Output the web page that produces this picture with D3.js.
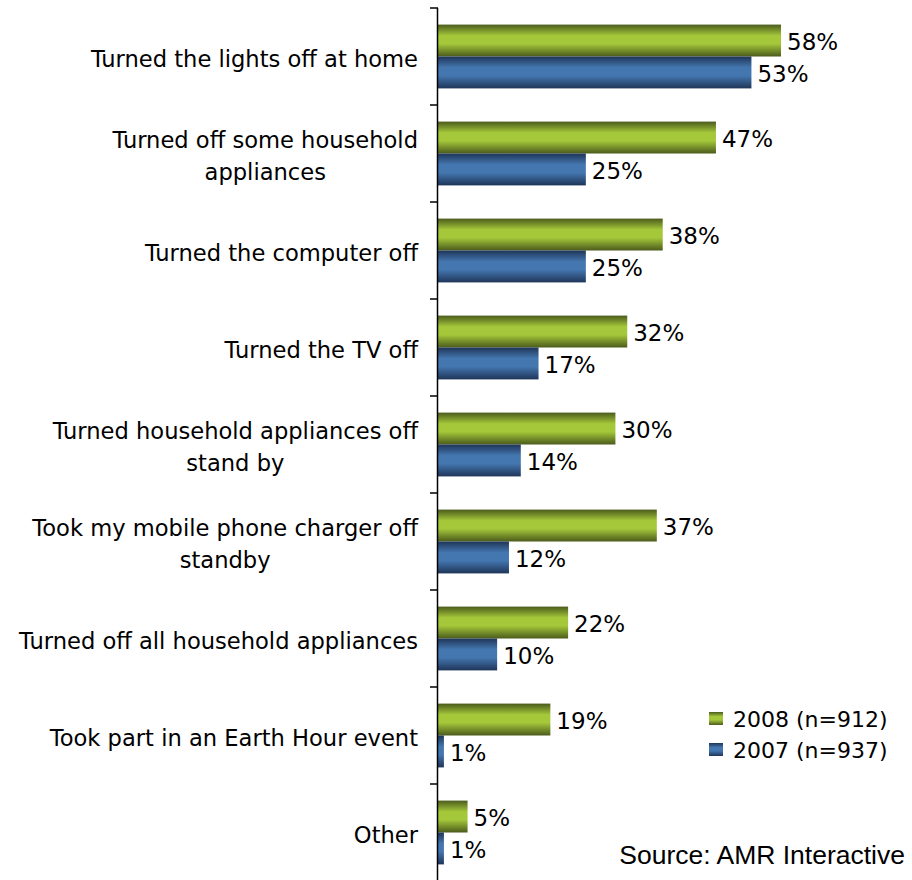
<!DOCTYPE html>
<meta charset="utf-8">
<style>
body { margin: 0; background: #fff; }
text { font-family: "DejaVu Sans", Verdana, sans-serif; fill: #000; }
.source { font-family: "Liberation Sans", Arial, sans-serif; }
</style>
<svg width="912" height="880"></svg>
<script src="https://cdn.jsdelivr.net/npm/d3@7"></script>
<script>

var categories = [
  ["Turned the lights off at home"],
  ["Turned off some household", "appliances"],
  ["Turned the computer off"],
  ["Turned the TV off"],
  ["Turned household appliances off", "stand by"],
  ["Took my mobile phone charger off", "standby"],
  ["Turned off all household appliances"],
  ["Took part in an Earth Hour event"],
  ["Other"]
];
var series = ["2008 (n=912)", "2007 (n=937)"];
var values2008 = [58, 47, 38, 32, 30, 37, 22, 19, 5];
var values2007 = [53, 25, 25, 17, 14, 12, 10, 1, 1];
var sourceText = "Source: AMR Interactive";

var svg = d3.select("svg");

var keys = categories.map(function(d, i) { return i; });

var y = d3.scaleBand()
    .domain(keys)
    .range([8, 881]);

var yInner = d3.scaleBand()
    .domain(series)
    .range([0, y.bandwidth()])
    .paddingOuter(0.52);

var x = d3.scaleLinear()
    .domain([0, 58])
    .range([438, 781]);

// gradients
var defs = svg.append("defs");
function grad(id, edge, mid) {
  var g = defs.append("linearGradient")
      .attr("id", id)
      .attr("x1", 0).attr("y1", 0).attr("x2", 0).attr("y2", 1);
  g.append("stop").attr("offset", "0%").attr("stop-color", edge);
  g.append("stop").attr("offset", "35%").attr("stop-color", mid);
  g.append("stop").attr("offset", "60%").attr("stop-color", mid);
  g.append("stop").attr("offset", "100%").attr("stop-color", edge);
}
grad("g2008", "#4b5b1c", "#a5c83a");
grad("g2007", "#1f3558", "#4477b0");
var fills = { "2008 (n=912)": "url(#g2008)", "2007 (n=937)": "url(#g2007)" };

var rows = [];
keys.forEach(function(k) {
  rows.push({ k: k, s: series[0], v: values2008[k] });
  rows.push({ k: k, s: series[1], v: values2007[k] });
});

svg.append("g").selectAll("rect")
  .data(rows)
  .enter().append("rect")
    .attr("x", x(0))
    .attr("y", function(d) { return y(d.k) + yInner(d.s); })
    .attr("width", function(d) { return x(d.v) - x(0); })
    .attr("height", yInner.bandwidth())
    .attr("fill", function(d) { return fills[d.s]; });

svg.append("g").selectAll("text")
  .data(rows)
  .enter().append("text")
    .attr("x", function(d) { return x(d.v) + 6; })
    .attr("y", function(d) { return y(d.k) + yInner(d.s) + yInner.bandwidth() / 2 + 1; })
    .attr("dy", "0.36em")
    .attr("font-size", 23)
    .text(function(d) { return d.v + "%"; });

// axis
var axis = svg.append("g");
axis.append("line")
    .attr("x1", x(0) - 0.5).attr("x2", x(0) - 0.5)
    .attr("y1", y.range()[0]).attr("y2", y.range()[1])
    .attr("stroke", "#000").attr("stroke-width", 1.5);
var bounds = keys.map(function(k) { return y(k); }).concat([y.range()[1]]);
axis.selectAll(".tick")
  .data(bounds)
  .enter().append("line")
    .attr("x1", x(0) - 8).attr("x2", x(0))
    .attr("y1", function(d) { return d; }).attr("y2", function(d) { return d; })
    .attr("stroke", "#000").attr("stroke-width", 1.5);

// category labels
var labelRight = 418;
var lab = svg.append("g").selectAll("text")
  .data(keys)
  .enter().append("text")
    .attr("font-size", 22.6)
    .attr("text-anchor", "middle");
lab.each(function(k) {
  var t = d3.select(this);
  var lines = categories[k];
  var n = lines.length;
  var cy = y(k) + y.bandwidth() / 2 + 2;
  lines.forEach(function(s, i) {
    t.append("tspan")
        .attr("y", cy + (i - (n - 1) / 2) * 32)
        .attr("dy", "0.36em")
        .text(s);
  });
  var w = 0;
  t.selectAll("tspan").each(function() { w = Math.max(w, this.getComputedTextLength()); });
  t.selectAll("tspan").attr("x", labelRight - w / 2);
});

// legend
var legend = svg.append("g").selectAll("g")
  .data(series)
  .enter().append("g")
    .attr("transform", function(d, i) { return "translate(709," + (719 + i * 31) + ")"; });
legend.append("rect")
    .attr("x", 0).attr("y", -7)
    .attr("width", 14).attr("height", 13)
    .attr("fill", function(d) { return fills[d]; });
legend.append("text")
    .attr("x", 24)
    .attr("dy", "0.36em")
    .attr("font-size", 22)
    .text(function(d) { return d; });

svg.append("text")
    .attr("class", "source")
    .attr("x", 905)
    .attr("y", 864)
    .attr("text-anchor", "end")
    .attr("font-size", 26.5)
    .text(sourceText);

</script>
